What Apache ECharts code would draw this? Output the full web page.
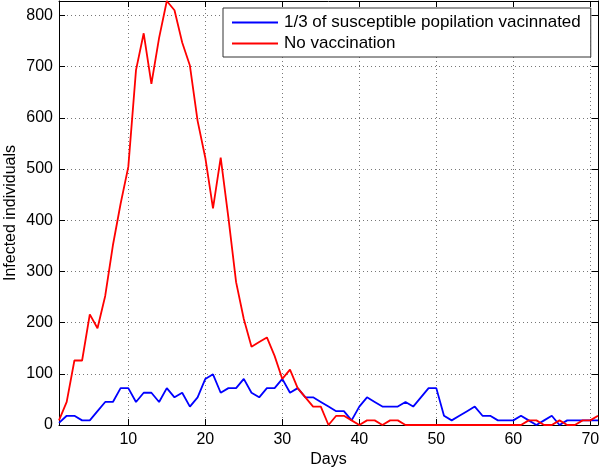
<!DOCTYPE html>
<html>
<head>
<meta charset="utf-8">
<script src="https://cdn.jsdelivr.net/npm/echarts@6/dist/echarts.min.js"></script>
<style>html,body{margin:0;padding:0;background:#fff}#c{width:600px;height:470px}</style>
</head>
<body>
<div id="c"></div>
<script>
var days = [];
for (var d = 1; d <= 71; d++) days.push(d);
var vaccinated = [4,18,18,9,9,27,45,45,72,72,45,63,63,45,72,54,63,36,54,90,99,63,72,72,90,63,54,72,72,90,63,72,54,54,45,36,27,27,9,36,54,45,36,36,36,45,36,54,72,72,18,9,18,27,36,18,18,9,9,9,18,9,0,9,18,0,9,9,9,9,9];
var noVaccination = [9,45,126,126,216,189,252,351,432,504,693,765,666,756,828,810,747,702,594,522,423,522,405,279,207,153,162,171,135,90,108,72,54,36,36,0,18,18,9,0,9,9,0,9,9,0,0,0,0,0,0,0,0,0,0,0,0,0,0,0,0,9,9,0,0,9,0,0,9,9,18];
var xTicks = [10,20,30,40,50,60,70];
var yTicks = [0,100,200,300,400,500,600,700,800];
var seriesNames = ['1/3 of susceptible popilation vacinnated', 'No vaccination'];

var FONT = 'Liberation Sans, Arial, Helvetica, sans-serif';
function pairs(vals){ return days.map(function(d,i){ return [d, vals[i]]; }); }

var grid = {left:59, right:2, top:1, bottom:45, containLabel:false, outerBoundsMode:'none'};
var split = {show:true, lineStyle:{color:'#777', width:1, type:[1,3]}};
function xAx(pos, main){
  return {
    type:'value', position:pos, min:1, max:71,
    axisLine:{show:true, onZero:false, lineStyle:{color:'#000', width:1}},
    axisTick:{show:true, inside:true, length:6, customValues:xTicks, lineStyle:{color:'#000'}},
    axisLabel:{show:main, customValues:xTicks, color:'#000', fontSize:16, fontFamily:FONT, margin:7},
    splitLine: main ? split : {show:false},
    name: main ? 'Days' : '', nameLocation:'middle', nameGap:27, nameMoveOverlap:false,
    nameTextStyle:{color:'#000', fontSize:16, fontFamily:FONT}
  };
}
function yAx(pos, main){
  return {
    type:'value', position:pos, min:0, max:828,
    axisLine:{show:true, onZero:false, lineStyle:{color:'#000', width:1}},
    axisTick:{show:true, inside:true, length:6, customValues:yTicks, lineStyle:{color:'#000'}},
    axisLabel:{show:main, customValues:yTicks, color:'#000', fontSize:16, fontFamily:FONT, margin:6},
    splitLine: main ? split : {show:false},
    name: main ? 'Infected individuals' : '', nameLocation:'middle', nameGap:40, nameRotate:90, nameMoveOverlap:false,
    nameTextStyle:{color:'#000', fontSize:16, fontFamily:FONT}
  };
}

var chart = echarts.init(document.getElementById('c'), null, {renderer:'canvas'});
chart.setOption({
  animation:false,
  backgroundColor:'#fff',
  grid:grid,
  xAxis:[xAx('bottom', true), xAx('top', false)],
  yAxis:[yAx('left', true), yAx('right', false)],
  legend:{
    left:223, top:8, orient:'vertical', selectedMode:false,
    backgroundColor:'#fff', borderColor:'#333', borderWidth:1,
    padding:[6,10,5,9], itemGap:4, itemWidth:46, itemHeight:2, icon:'rect',
    textStyle:{color:'#000', fontSize:17, fontFamily:FONT, padding:[0,0,0,1]},
    data:seriesNames
  },
  series:[
    {name:seriesNames[0], type:'line', data:pairs(vaccinated), symbol:'none', lineStyle:{color:'#0000ff', width:1.8}, itemStyle:{color:'#0000ff'}, z:3},
    {name:seriesNames[1], type:'line', data:pairs(noVaccination), symbol:'none', lineStyle:{color:'#ff0000', width:1.8}, itemStyle:{color:'#ff0000'}, z:4}
  ]
});
</script>
</body>
</html>
